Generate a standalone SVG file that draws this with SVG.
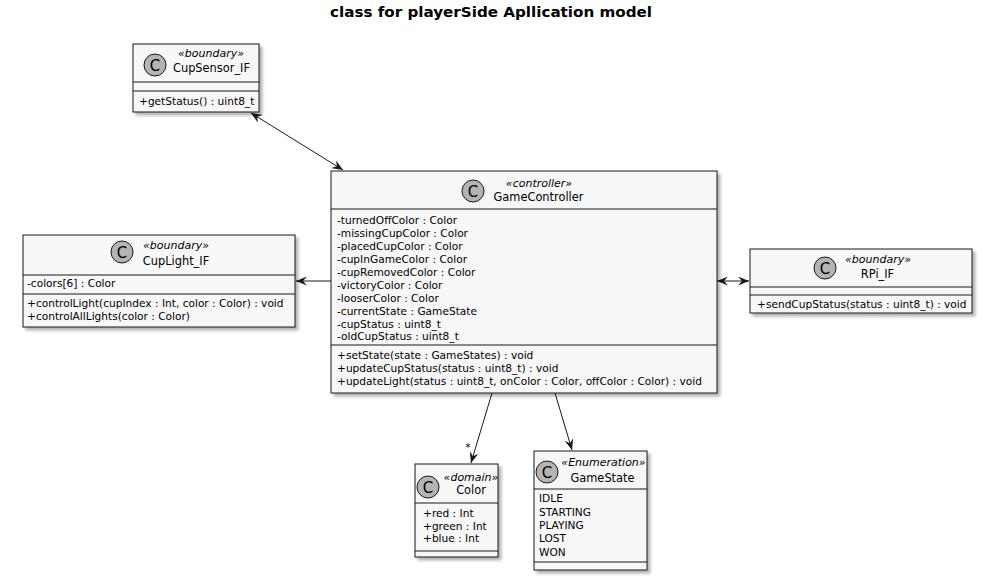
<svg xmlns="http://www.w3.org/2000/svg" width="982" height="579" viewBox="0 0 982 579">
<style>
text{font-family:"DejaVu Sans",sans-serif;fill:#000}
.t{font-size:14px;font-weight:bold}
.st{font-size:11px;font-style:italic;text-anchor:middle}
.nm{font-size:11.4px;text-anchor:middle}
.m{font-size:10.6px}
.box{fill:#F7F7F7;stroke:#181818;stroke-width:1}
.ln{stroke:#181818;stroke-width:1}
.ci{fill:#B4B4B4;stroke:#181818;stroke-width:1}
.cl{font-size:15px;text-anchor:middle}
.e{stroke:#181818;stroke-width:1;fill:none}
</style>
<defs>
<filter id="sh" x="-10%" y="-10%" width="130%" height="130%">
<feGaussianBlur in="SourceAlpha" stdDeviation="1.5"/>
<feOffset dx="3" dy="3" result="b"/>
<feComponentTransfer><feFuncA type="linear" slope="0.3"/></feComponentTransfer>
<feMerge><feMergeNode/><feMergeNode in="SourceGraphic"/></feMerge>
</filter>
<marker id="ah" viewBox="0 0 11 9" refX="11" refY="4.5" markerWidth="11" markerHeight="9" orient="auto-start-reverse" markerUnits="userSpaceOnUse">
<path d="M0,0 L11,4.5 L0,9 L4,4.5 Z" fill="#181818"/>
</marker>
</defs>
<rect width="982" height="579" fill="#fff"/>
<text class="t" x="491" y="17" text-anchor="middle" textLength="322" lengthAdjust="spacingAndGlyphs">class for playerSide Apllication model</text>

<g id="connectors">
<line class="e" x1="251" y1="113" x2="343" y2="170" marker-start="url(#ah)" marker-end="url(#ah)"/>
<line class="e" x1="331" y1="281" x2="296" y2="281" marker-end="url(#ah)"/>
<line class="e" x1="717" y1="281" x2="749" y2="281" marker-start="url(#ah)" marker-end="url(#ah)"/>
<line class="e" x1="492" y1="393" x2="471" y2="463" marker-end="url(#ah)"/>
<text class="m" x="468" y="451" text-anchor="middle">*</text>
<line class="e" x1="555" y1="393" x2="572" y2="450" marker-end="url(#ah)"/>
</g>

<g id="CupSensor_IF">
<rect class="box" x="133" y="44" width="126" height="68" filter="url(#sh)"/>
<circle class="ci" cx="155" cy="65" r="11"/>
<text class="cl" x="155" y="70.5">C</text>
<text class="st" x="211" y="57">«boundary»</text>
<text class="nm" x="211.5" y="72">CupSensor_IF</text>
<line class="ln" x1="133" y1="82" x2="259" y2="82"/>
<line class="ln" x1="133" y1="91" x2="259" y2="91"/>
<text class="m" x="139" y="105">+getStatus() : uint8_t</text>
</g>

<g id="GameController">
<rect class="box" x="331" y="171" width="386" height="222" filter="url(#sh)"/>
<circle class="ci" cx="473" cy="191" r="11"/>
<text class="cl" x="473" y="196.5">C</text>
<text class="st" x="539" y="187">«controller»</text>
<text class="nm" x="538.5" y="201">GameController</text>
<line class="ln" x1="331" y1="209" x2="717" y2="209"/>
<text class="m" x="337" y="224">-turnedOffColor : Color</text>
<text class="m" x="337" y="237">-missingCupColor : Color</text>
<text class="m" x="337" y="250">-placedCupColor : Color</text>
<text class="m" x="337" y="263">-cupInGameColor : Color</text>
<text class="m" x="337" y="276">-cupRemovedColor : Color</text>
<text class="m" x="337" y="289">-victoryColor : Color</text>
<text class="m" x="337" y="301.5">-looserColor : Color</text>
<text class="m" x="337" y="314.5">-currentState : GameState</text>
<text class="m" x="337" y="327.5">-cupStatus : uint8_t</text>
<text class="m" x="337" y="340">-oldCupStatus : uint8_t</text>
<line class="ln" x1="331" y1="345" x2="717" y2="345"/>
<text class="m" x="337" y="359">+setState(state : GameStates) : void</text>
<text class="m" x="337" y="372">+updateCupStatus(status : uint8_t) : void</text>
<text class="m" x="337" y="385">+updateLight(status : uint8_t, onColor : Color, offColor : Color) : void</text>
</g>

<g id="CupLight_IF">
<rect class="box" x="23" y="235" width="272" height="92" filter="url(#sh)"/>
<circle class="ci" cx="122" cy="252" r="11"/>
<text class="cl" x="122" y="257.5">C</text>
<text class="st" x="176" y="249">«boundary»</text>
<text class="nm" x="176" y="265">CupLight_IF</text>
<line class="ln" x1="23" y1="275" x2="295" y2="275"/>
<text class="m" x="27" y="287">-colors[6] : Color</text>
<line class="ln" x1="23" y1="294" x2="295" y2="294"/>
<text class="m" x="27" y="307">+controlLight(cupIndex : Int, color : Color) : void</text>
<text class="m" x="27" y="320">+controlAllLights(color : Color)</text>
</g>

<g id="RPi_IF">
<rect class="box" x="750" y="249" width="222" height="64" filter="url(#sh)"/>
<circle class="ci" cx="825" cy="268" r="11"/>
<text class="cl" x="825" y="273.5">C</text>
<text class="st" x="878" y="263">«boundary»</text>
<text class="nm" x="877.5" y="278">RPi_IF</text>
<line class="ln" x1="750" y1="287" x2="972" y2="287"/>
<line class="ln" x1="750" y1="295" x2="972" y2="295"/>
<text class="m" x="757" y="308">+sendCupStatus(status : uint8_t) : void</text>
</g>

<g id="Color">
<rect class="box" x="415" y="464" width="83" height="93" filter="url(#sh)"/>
<circle class="ci" cx="428" cy="487" r="11"/>
<text class="cl" x="428" y="492.5">C</text>
<text class="st" x="471" y="481">«domain»</text>
<text class="nm" x="471" y="494">Color</text>
<line class="ln" x1="415" y1="503" x2="498" y2="503"/>
<text class="m" x="423" y="517">+red : Int</text>
<text class="m" x="423" y="529.5">+green : Int</text>
<text class="m" x="423" y="542">+blue : Int</text>
<line class="ln" x1="415" y1="551" x2="498" y2="551"/>
</g>

<g id="GameState">
<rect class="box" x="534" y="451" width="113" height="119" filter="url(#sh)"/>
<circle class="ci" cx="547" cy="472" r="11"/>
<text class="cl" x="547" y="477.5">C</text>
<text class="st" x="603.5" y="466">«Enumeration»</text>
<text class="nm" x="602.5" y="482">GameState</text>
<line class="ln" x1="534" y1="489" x2="647" y2="489"/>
<text class="m" x="539" y="502">IDLE</text>
<text class="m" x="539" y="515.5">STARTING</text>
<text class="m" x="539" y="529">PLAYING</text>
<text class="m" x="539" y="542">LOST</text>
<text class="m" x="539" y="555.5">WON</text>
<line class="ln" x1="534" y1="562" x2="647" y2="562"/>
</g>
</svg>
